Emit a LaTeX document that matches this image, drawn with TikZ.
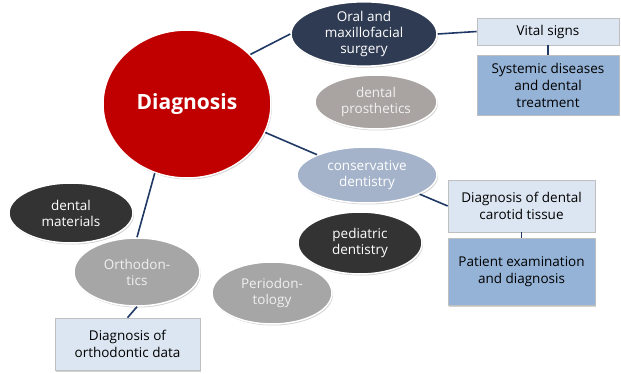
\documentclass[tikz,border=0pt]{standalone}
\usepackage{fontspec}
\setmainfont{Open Sans}
\usetikzlibrary{shapes.geometric,shadows}

\definecolor{diagred}{HTML}{C00000}
\definecolor{navyfill}{HTML}{2E3B52}
\definecolor{warmgray}{HTML}{A9A4A1}
\definecolor{midgray}{HTML}{A6A6A6}
\definecolor{steelfill}{HTML}{A4B3CA}
\definecolor{darkfill}{HTML}{333333}
\definecolor{paleblue}{HTML}{DCE6F2}
\definecolor{boxblue}{HTML}{95B3D7}
\definecolor{linkblue}{HTML}{1F3864}

\tikzset{
    topic/.style={ellipse, draw=white, line width=1.5pt, inner sep=0pt,
        align=center, text=white, font=\fontsize{13.5}{16}\selectfont,
        drop shadow={opacity=0.35, shadow xshift=1pt, shadow yshift=-1.5pt}},
    infobox/.style={rectangle, draw=gray!50, line width=0.6pt, inner sep=0pt,
        align=center, text=black, font=\fontsize{13.5}{17}\selectfont,
        minimum width=142pt,
        drop shadow={opacity=0.35, shadow xshift=1pt, shadow yshift=-1.5pt}},
    link/.style={draw=linkblue, line width=1.6pt}
}

\begin{document}
\begin{tikzpicture}[x=1pt, y=-1pt]
    \useasboundingbox (0,0) rectangle (621,374);

    \node[topic, fill=diagred, minimum width=168pt, minimum height=148pt,
        font=\fontsize{21}{24}\bfseries] (diag) at (187,104) {Diagnosis};

    \node[topic, fill=navyfill, minimum width=146pt, minimum height=52pt] (oral) at (364,34) {Oral and\\maxillofacial\\surgery};

    \node[topic, fill=warmgray, minimum width=122pt, minimum height=54pt, text=white!94!black] (prost) at (376,102) {dental\\prosthetics};

    \node[topic, fill=steelfill, minimum width=140pt, minimum height=56pt] (cons) at (367,175) {conservative\\dentistry};

    \node[topic, fill=darkfill, minimum width=124pt, minimum height=62pt] (pedia) at (360,243) {pediatric\\dentistry};

    \node[topic, fill=midgray, minimum width=120pt, minimum height=62pt, text=white!94!black] (perio) at (272,293) {Periodon-\\tology};

    \node[topic, fill=darkfill, minimum width=124pt, minimum height=60pt] (mater) at (71,213) {dental\\materials};

    \node[topic, fill=midgray, minimum width=126pt, minimum height=68pt, text=white!94!black] (ortho) at (137,272) {Orthodon-\\tics};

    \node[infobox, fill=paleblue, minimum height=27pt] (vital) at (548,31.5) {Vital signs};

    \node[infobox, fill=boxblue, minimum height=60pt] (syst) at (548,85) {Systemic diseases\\and dental\\treatment};

    \node[infobox, fill=paleblue, minimum width=147pt, minimum height=52pt] (carot) at (521.5,206) {Diagnosis of dental\\carotid tissue};

    \node[infobox, fill=boxblue, minimum width=147pt, minimum height=67pt] (patie) at (521.5,271.5) {Patient examination\\and diagnosis};

    \node[infobox, fill=paleblue, minimum width=145pt, minimum height=52pt] (ordata) at (127.5,344) {Diagnosis of\\orthodontic data};

    % links
    \draw[link] (diag.38) -- (oral.west);
    \draw[link] (diag.-20) -- (cons.north west);
    \draw[link] (diag.-115) -- (ortho.north);
    \draw[link] (oral.east) -- (vital.west);
    \draw[link] (vital.south) -- (syst.north);
    \draw[link] (cons.-20) -- (carot.west);
    \draw[link] (carot.south) -- (patie.north);
    \draw[link] (ortho.south) -- (ordata.north);
\end{tikzpicture}
\end{document}
